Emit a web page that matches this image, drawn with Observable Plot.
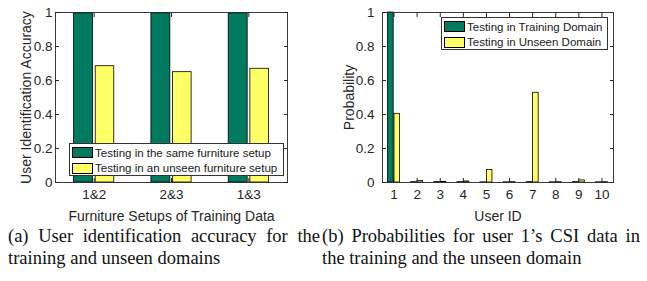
<!DOCTYPE html>
<html><head><meta charset="utf-8">
<script src="https://cdn.jsdelivr.net/npm/d3@7"></script>
<script src="https://cdn.jsdelivr.net/npm/@observablehq/plot@0.6"></script>
<style>
body{margin:0;background:#fff;width:647px;height:281px;overflow:hidden}
#charts{display:flex;height:225px}
.panel{position:relative}
#charts svg g[aria-label="y-axis tick label"], #charts svg g[aria-label="x-axis tick label"]{font-size:13.5px}
#charts svg g[aria-label="y-axis label"], #charts svg g[aria-label="x-axis label"]{font-size:14px}
.legend{position:absolute;box-sizing:border-box;background:#fff;border:0.8px solid #333;font:11.5px "Liberation Sans",Arial,sans-serif;color:#1a1a1a;padding:1px 2px 0 2px}
.legend .row{display:flex;align-items:center;height:15.5px;white-space:nowrap}
.legend .sw{width:21px;height:11px;box-sizing:border-box;border:0.9px solid #000;margin-right:2px;flex:none}
#captions{display:flex;font:18.5px "Liberation Serif","Times New Roman",serif;line-height:22px;color:#111}
#captions div{text-align:justify}
</style></head>
<body>
<div id="charts"><div class="panel" id="pa"></div><div class="panel" id="pb"></div></div>
<div id="captions">
  <div style="width:312px;margin-left:8px">(a) User identification accuracy for the training and unseen domains</div>
  <div style="width:318px;margin-left:2px">(b) Probabilities for user 1’s CSI data in the training and the unseen domain</div>
</div>
<script>
// ---- data: chart (a)
const setups = ["1&2", "2&3", "1&3"];
const sameSetupAcc = [0.995, 0.995, 0.995];
const unseenSetupAcc = [0.684, 0.649, 0.669];
const legendA = ["Testing in the same furniture setup", "Testing in an unseen furniture setup"];
// ---- data: chart (b)
const userIds = [1, 2, 3, 4, 5, 6, 7, 8, 9, 10];
const trainingDomainProb = [1.0, 0.002, 0.002, 0.002, 0.001, 0.001, 0.002, 0.001, 0.002, 0.001];
const unseenDomainProb = [0.404, 0.008, 0.004, 0.006, 0.074, 0.002, 0.528, 0.002, 0.012, 0.002];
const legendB = ["Testing in Training Domain", "Testing in Unseen Domain"];
const yTicks = [0, 0.2, 0.4, 0.6, 0.8, 1];

const GREEN = "#017a5f", YELLOW = "#ffff66", AX = "#262626";
const fmtY = d => String(+d.toFixed(1));

function groupedChart({xs, s1, s2, width, marginLeft, marginRight, xLabel, yLabel, yLabelOffset, xTickFmt, yTickPad}) {
  const rows = xs.map((x, i) => ({x, a: s1[i], b: s2[i]}));
  const xdom = [xs[0] - 0.5, xs[xs.length - 1] + 0.5];
  return Plot.plot({
    width, height: 225, marginLeft, marginRight, marginTop: 12, marginBottom: 43,
    style: {fontFamily: "'Liberation Sans', Arial, sans-serif", fontSize: "13.5px", color: AX, background: "#fff"},
    x: {domain: xdom, label: null},
    y: {domain: [0, 1], label: null},
    marks: [
      Plot.axisY(yTicks, {anchor: "left", tickSize: -4, tickPadding: 4 + yTickPad, tickFormat: fmtY, label: null}),
      Plot.axisY(yTicks, {anchor: "left", tickSize: 0, tickFormat: () => "", label: yLabel, labelAnchor: "center", labelOffset: yLabelOffset, labelArrow: "none"}),
      Plot.axisY(yTicks, {anchor: "right", tickSize: -4, tickFormat: () => "", label: null}),
      Plot.axisX(xs, {anchor: "bottom", tickSize: -4, tickPadding: 11, tickFormat: xTickFmt, label: null}),
      Plot.axisX(xs, {anchor: "bottom", tickSize: 0, tickFormat: () => "", label: xLabel, labelAnchor: "center", labelOffset: 38, labelArrow: "none"}),
      Plot.axisX(xs, {anchor: "top", tickSize: -4, tickFormat: () => "", label: null}),
      Plot.rectY(rows, {x1: d => d.x - 0.26, x2: d => d.x - 0.015, y: "a", fill: GREEN, stroke: "#000", strokeWidth: 0.8}),
      Plot.rectY(rows, {x1: d => d.x + 0.02, x2: d => d.x + 0.26, y: "b", fill: YELLOW, stroke: "#000", strokeWidth: 0.8}),
      Plot.frame({stroke: AX, strokeWidth: 0.9})
    ]
  });
}

function legend(labels, box) {
  const el = document.createElement("div");
  el.className = "legend";
  Object.assign(el.style, {left: box[0] + "px", top: box[1] + "px", width: box[2] + "px", height: box[3] + "px"});
  [GREEN, YELLOW].forEach((c, i) => {
    const r = document.createElement("div"); r.className = "row";
    const s = document.createElement("div"); s.className = "sw"; s.style.background = c;
    const t = document.createElement("span"); t.textContent = labels[i];
    r.append(s, t); el.append(r);
  });
  return el;
}

const pa = document.getElementById("pa"), pb = document.getElementById("pb");
pa.append(groupedChart({
  xs: setups.map((_, i) => i), s1: sameSetupAcc, s2: unseenSetupAcc,
  width: 323, marginLeft: 55, marginRight: 36,
  xLabel: "Furniture Setups of Training Data", yLabel: "User Identification Accuracy", yLabelOffset: 34,
  xTickFmt: i => setups[i], yTickPad: 3
}));
pa.append(legend(legendA, [69, 143, 215, 33]));
pb.append(groupedChart({
  xs: userIds, s1: trainingDomainProb, s2: unseenDomainProb,
  width: 324, marginLeft: 59, marginRight: 34,
  xLabel: "User ID", yLabel: "Probability", yLabelOffset: 38,
  xTickFmt: d => String(d), yTickPad: 8
}));
pb.append(legend(legendB, [118, 17, 167, 33]));
</script>
</body></html>
